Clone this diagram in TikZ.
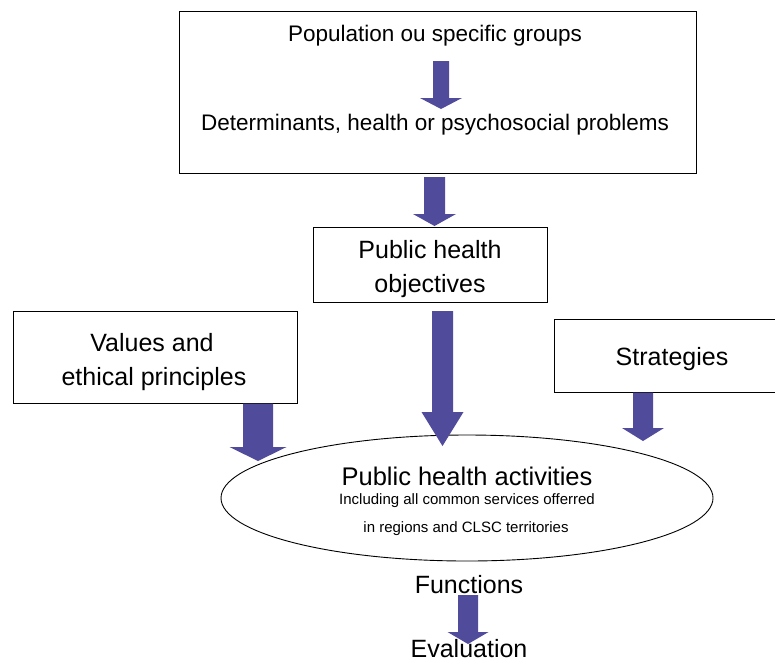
\documentclass[tikz,border=0pt]{standalone}
\usepackage{fontspec}
\setmainfont{Liberation Sans}
\usetikzlibrary{shapes.geometric}
\definecolor{arrowblue}{RGB}{80,75,155}
\tikzset{
  boxshape/.style={draw=black,line width=0.9pt,fill=white,inner sep=0pt},
  arrowfill/.style={fill=arrowblue},
  bigtxt/.style={anchor=base,inner sep=0pt,font=\fontsize{25}{30}\selectfont},
  midtxt/.style={anchor=base,inner sep=0pt,font=\fontsize{22.5}{27}\selectfont},
  smalltxt/.style={anchor=base,inner sep=0pt,font=\fontsize{15}{18}\selectfont},
}
% cx, top, headstart, tip, half shaft, half head
\newcommand\blockarrow[6]{%
  \fill[arrowfill] ({#1-#5},#2) -- ({#1+#5},#2) -- ({#1+#5},#3) -- ({#1+#6},#3)
    -- (#1,#4) -- ({#1-#6},#3) -- ({#1-#5},#3) -- cycle;}
\begin{document}
\begin{tikzpicture}[x=1pt,y=-1pt]
\useasboundingbox (0,0) rectangle (775,662);
\begin{scope}
\clip (0,0) rectangle (775,662);
% boxes
\node[boxshape,minimum width=517pt,minimum height=162pt] (topbox) at (437.5,92) {};
\node[boxshape,minimum width=234pt,minimum height=75pt] (objbox) at (430,264.5) {};
\node[boxshape,minimum width=284pt,minimum height=92pt] (valbox) at (155,357) {};
\node[boxshape,minimum width=236pt,minimum height=73pt] (stratbox) at (672,355.5) {};
\node[draw=black,line width=0.9pt,fill=white,ellipse,inner sep=0pt,minimum width=492pt,minimum height=126pt] (act) at (467,498) {};
% arrows
\blockarrow{441}{61}{98}{109}{8}{21}
\blockarrow{434.5}{177}{214}{226}{10.5}{21.5}
\blockarrow{442.5}{311}{412}{446}{10.5}{21}
\blockarrow{258}{403.5}{447}{461}{15}{28.5}
\blockarrow{643}{392.5}{428}{441}{10}{21}
\blockarrow{468}{595}{632}{644}{10}{20.5}
\end{scope}
% texts
\node[midtxt] (pop) at (435,41) {Population ou specific groups};
\node[midtxt] (det) at (435,130) {Determinants, health or psychosocial problems};
\node[bigtxt] (obj1) at (430,258) {Public health};
\node[bigtxt] (obj2) at (430,292) {objectives};
\node[bigtxt] (val1) at (152,351) {Values and};
\node[bigtxt] (val2) at (154,385) {ethical principles};
\node[bigtxt] (strat) at (672,365) {Strategies};
\node[bigtxt,font=\fontsize{25.5}{30}\selectfont] (acttitle) at (467,485) {Public health activities};
\node[smalltxt] (inc) at (467,504.5) {Including all common services offerred};
\node[smalltxt] (reg) at (466,532.5) {in regions and CLSC territories};
\node[bigtxt] (func) at (469,593) {Functions};
\node[bigtxt] (eval) at (469,657) {Evaluation};
\end{tikzpicture}
\end{document}
